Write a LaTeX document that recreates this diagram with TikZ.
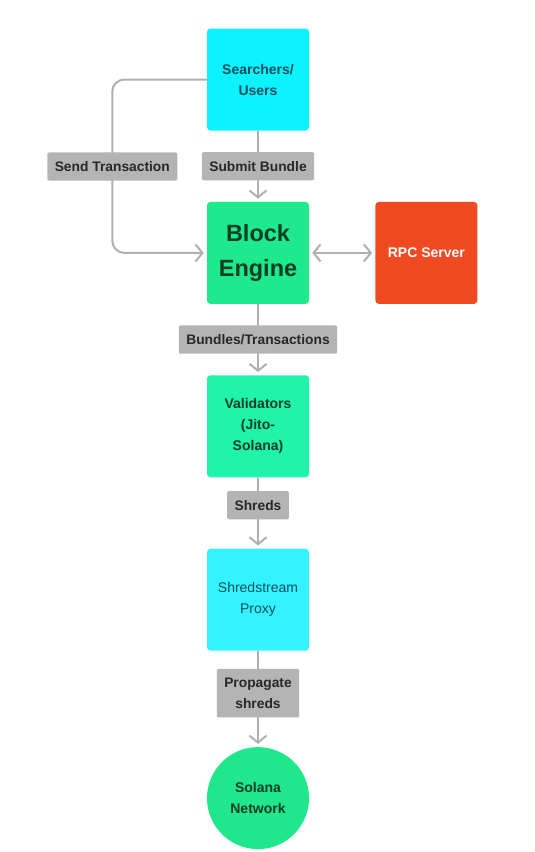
\documentclass[tikz,border=0pt]{standalone}
\usepackage{fontspec}
\setmainfont{Liberation Sans}
\usetikzlibrary{positioning,arrows.meta}

\definecolor{searchcyan}{RGB}{12,242,255}
\definecolor{proxycyan}{RGB}{52,242,255}
\definecolor{enginegreen}{RGB}{30,233,140}
\definecolor{validgreen}{RGB}{32,243,170}
\definecolor{netgreen}{RGB}{32,230,140}
\definecolor{rpcred}{RGB}{240,74,35}
\definecolor{lblgray}{RGB}{180,180,180}
\definecolor{linegray}{RGB}{176,176,176}
\definecolor{lbltext}{RGB}{40,40,40}
\definecolor{cyantext}{RGB}{10,80,92}
\definecolor{greentext}{RGB}{10,62,36}

\begin{document}
\begin{tikzpicture}[
      x=1pt, y=-1pt,
      node distance=71pt,
      every node/.style={align=center},
      chev/.tip={Straight Barb[length=7pt,width=17pt]},
      box/.style={rounded corners=3.5pt, minimum width=102pt, minimum height=102pt, inner sep=2pt,
        font=\fontsize{14}{21}\selectfont\bfseries},
      lbl/.style={fill=lblgray, rounded corners=2pt, inner xsep=7.5pt, inner ysep=9pt, text=lbltext,
        font=\fontsize{13.8}{21}\selectfont\bfseries},
      flow/.style={draw=linegray, line width=2pt, -chev, shorten >=3pt}
    ]

      \fill[white] (0,0) rectangle (535,852);

% Nodes
      \node[box, fill=searchcyan, text=cyantext] (search) at (258,79.5) {Searchers/\\Users};
      \node[box, fill=enginegreen, text=greentext, below=of search,
        font=\fontsize{23.5}{35}\selectfont\bfseries] (engine) {Block\\Engine};
      \node[box, fill=rpcred, text=white, right=66pt of engine] (rpc) {RPC Server};
      \node[box, fill=validgreen, text=greentext, below=of engine] (valid) {Validators\\(Jito-\\Solana)};
      \node[box, fill=proxycyan, text=cyantext, below=of valid,
        font=\fontsize{14}{21}\selectfont] (proxy) {Shredstream\\Proxy};
      \node[circle, fill=netgreen, text=greentext, minimum size=102pt, inner sep=2pt,
        font=\fontsize{14}{21}\selectfont\bfseries, below=96pt of proxy] (net) {Solana\\Network};

% Connections
      \draw[flow] (search) -- node[lbl] (submit) {Submit Bundle} (engine);
      \draw[flow, rounded corners=12pt] (search.west) -| ++(-94.5,87)
        node[lbl] (sendtx) {Send Transaction} |- (engine.west);
      \draw[flow, chev-chev, shorten <=3pt] (engine) -- (rpc);
      \draw[flow] (engine) -- node[lbl] (bundles) {Bundles/Transactions} (valid);
      \draw[flow] (valid) -- node[lbl, pos=0.39] (shreds) {Shreds} (proxy);
      \draw[flow] (proxy) -- node[lbl, pos=0.44] (propagate) {Propagate\\shreds} (net);

    \end{tikzpicture}
\end{document}
